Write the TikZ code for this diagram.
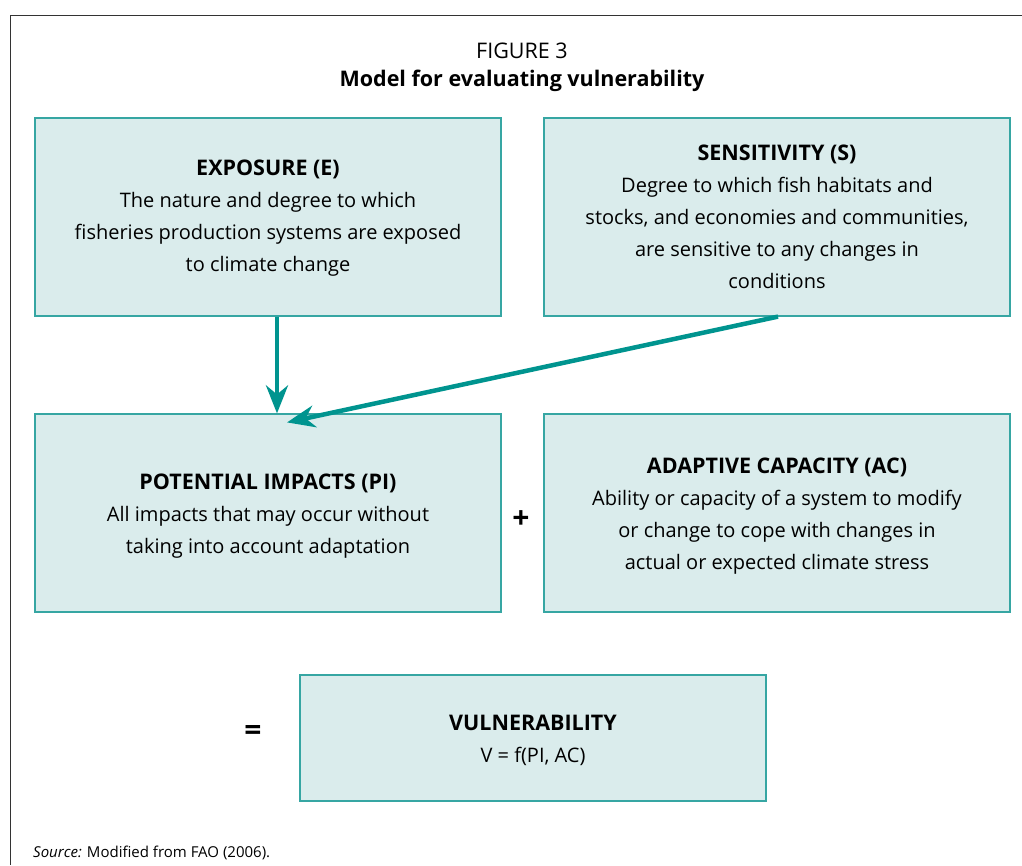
\documentclass[tikz,border=0pt]{standalone}
\usepackage{fontspec}
\setmainfont{Open Sans}
\usetikzlibrary{arrows.meta,calc}
\definecolor{boxfill}{HTML}{DAECEC}
\definecolor{boxline}{HTML}{36A6A3}
\definecolor{arrowc}{HTML}{00948F}
\begin{document}
\begin{tikzpicture}[x=1pt,y=-1pt,
  box/.style={draw=boxline,line width=1.2pt,fill=boxfill,minimum width=466pt,minimum height=198pt,inner sep=0pt},
  txt/.style={align=center,font=\fontsize{20}{32}\selectfont},
  arr/.style={draw=arrowc,line width=4.5pt,-{Stealth[length=28pt,width=22pt,inset=9pt]}}]
\newcommand{\hdr}[1]{{\bfseries\fontsize{21.5}{32}\selectfont #1}}
\useasboundingbox (0,0) rectangle (1022,865);
\draw[line width=1pt,black!80] (1022,15) -- (10,15) -- (10,865);
\node[font=\fontsize{21.5}{24}\selectfont] (fig) at (522,51) {FIGURE 3};
\node[font=\fontsize{21.5}{24}\selectfont\bfseries] (title) at (522,81) {Model for evaluating vulnerability};
\node[box] (E) at (268,217) {};
\node[txt] (Et) at (268,218) {\hdr{EXPOSURE (E)}\\The nature and degree to which\\fisheries production systems are exposed\\to climate change};
\node[box] (S) at (777,217) {};
\node[txt] (St) at (777,217) {\hdr{SENSITIVITY (S)}\\Degree to which fish habitats and\\stocks, and economies and communities,\\are sensitive to any changes in\\conditions};
\node[box] (PI) at (268,513) {};
\node[txt] (PIt) at (268,516) {\hdr{POTENTIAL IMPACTS (PI)}\\All impacts that may occur without\\taking into account adaptation};
\node[box] (AC) at (777,513) {};
\node[txt] (ACt) at (777,516) {\hdr{ADAPTIVE CAPACITY (AC)}\\Ability or capacity of a system to modify\\or change to cope with changes in\\actual or expected climate stress};
\node[box,minimum height=126pt] (V) at (533,738) {};
\node[txt] (Vt) at (533,740) {\hdr{VULNERABILITY}\\V = f(PI, AC)};
\node[font=\fontsize{30}{30}\selectfont\bfseries] (plus) at (521,520) {+};
\node[font=\fontsize{30}{30}\selectfont\bfseries] (eq) at (253,733) {=};
\node[anchor=base west,font=\fontsize{15}{16}\selectfont,inner sep=0pt] (src) at (33,857) {\textit{Source:} Modified from FAO (2006).};
\draw[arr] ([xshift=9pt]E.south) -- ([xshift=9pt]PI.north);
\draw[arr] ([xshift=1pt]S.south) -- ([xshift=19pt,yshift=-9pt]PI.north);
\end{tikzpicture}
\end{document}
